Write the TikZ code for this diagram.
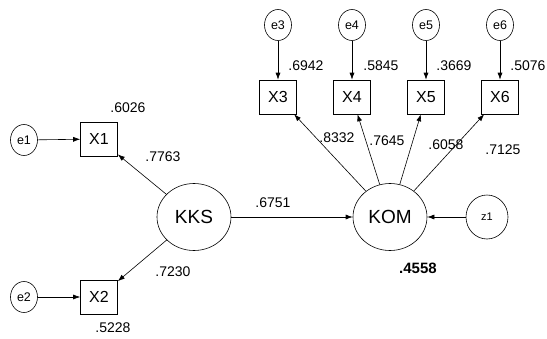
\documentclass[tikz,border=0pt]{standalone}
\usepackage{fontspec}
\setmainfont{Liberation Sans}
\usetikzlibrary{arrows.meta,shapes.geometric}

\begin{document}
\begin{tikzpicture}[x=1pt,y=-1pt,line width=0.6pt,
  obsbox/.style={draw,rectangle,minimum width=37pt,minimum height=34pt,inner sep=0pt,font=\fontsize{16}{16}\selectfont},
  latent/.style={draw,ellipse,minimum width=74pt,minimum height=67pt,inner sep=0pt,font=\fontsize{19}{19}\selectfont},
  errc/.style={draw,ellipse,minimum width=27pt,minimum height=31pt,inner sep=0pt,font=\fontsize{12.5}{12.5}\selectfont},
  coef/.style={inner sep=0pt,font=\fontsize{14}{14}\selectfont},
  arr/.style={-{Latex[length=7pt,width=5pt]}}]
\useasboundingbox (0,0) rectangle (547,338);
% latent variables
\node[latent] (KKS) at (194,217) {KKS};
\node[latent] (KOM) at (390,217) {KOM};
\node[errc,minimum width=42pt,minimum height=44pt,font=\fontsize{11}{11}\selectfont] (z1) at (487,217) {z1};
% left indicators
\node[obsbox] (X1) at (99,139) {X1};
\node[obsbox] (X2) at (99,297) {X2};
\node[errc] (e1) at (24,140) {e1};
\node[errc] (e2) at (24,297) {e2};
% top indicators
\node[obsbox] (X3) at (278,97) {X3};
\node[obsbox] (X4) at (352,97) {X4};
\node[obsbox] (X5) at (426,97) {X5};
\node[obsbox] (X6) at (500,97) {X6};
\node[errc] (e3) at (278,25) {e3};
\node[errc] (e4) at (352,25) {e4};
\node[errc] (e5) at (426,25) {e5};
\node[errc] (e6) at (500,25) {e6};
% paths
\draw[arr] (e1) -- (X1);
\draw[arr] (e2) -- (X2);
\draw[arr] (KKS) -- (X1);
\draw[arr] (KKS) -- (X2);
\draw[arr] (KKS) -- (KOM);
\draw[arr] (z1) -- (KOM);
\draw[arr] (KOM) -- (X3);
\draw[arr] (KOM) -- (X4);
\draw[arr] (KOM) -- (X5);
\draw[arr] (KOM) -- (X6);
\draw[arr] (e3) -- (X3);
\draw[arr] (e4) -- (X4);
\draw[arr] (e5) -- (X5);
\draw[arr] (e6) -- (X6);
% estimates
\node[coef] (r1) at (128,108) {.6026};
\node[coef] (r2) at (113,328) {.5228};
\node[coef] (w1) at (163,157) {.7763};
\node[coef] (w2) at (173,272) {.7230};
\node[coef] (b1) at (273,203) {.6751};
\node[coef,font=\bfseries\fontsize{15}{15}\selectfont] (r0) at (418,268) {.4558};
\node[coef] (r3) at (306,66) {.6942};
\node[coef] (r4) at (381,66) {.5845};
\node[coef] (r5) at (454,66) {.3669};
\node[coef] (r6) at (528,66) {.5076};
\node[coef] (w3) at (337,138) {.8332};
\node[coef] (w4) at (387,141) {.7645};
\node[coef] (w5) at (446,145) {.6058};
\node[coef] (w6) at (503,150) {.7125};
\end{tikzpicture}
\end{document}
